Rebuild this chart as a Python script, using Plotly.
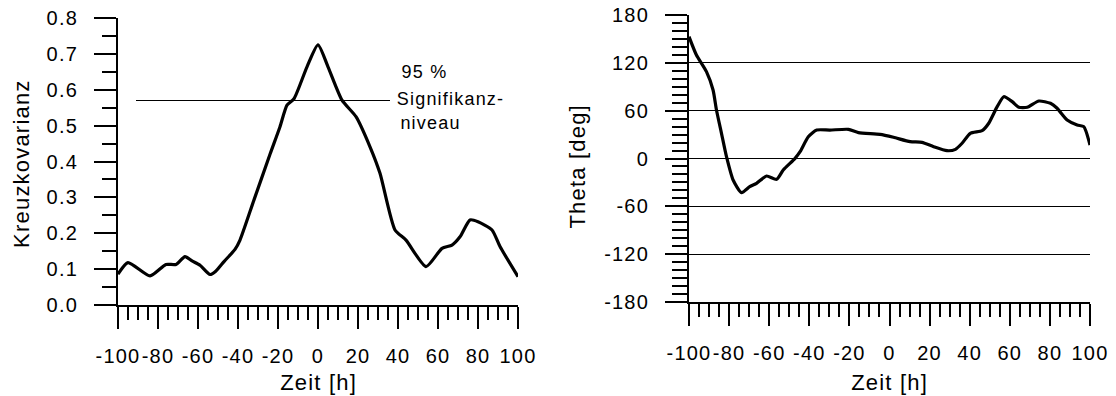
import plotly.graph_objects as go

W, H = 1116, 396

# ---------------- data ----------------
# Left panel: cross-covariance vs. lag time
lag_left = [-100, -95, -84, -76, -71, -66.5, -63, -59, -54, -51, -47, -41.5, -39, -32,
            -24, -19, -15.5, -12, -5.5, 0, 5, 12, 19, 26, 31, 38.5, 44, 54, 62, 67,
            71, 76, 80, 87, 91, 100]
kreuzkovarianz = [0.086, 0.118, 0.081, 0.113, 0.113, 0.135, 0.123, 0.111, 0.085, 0.095,
                  0.121, 0.155, 0.181, 0.293, 0.42, 0.497, 0.557, 0.575, 0.664, 0.725,
                  0.664, 0.571, 0.525, 0.441, 0.367, 0.209, 0.181, 0.107, 0.158, 0.167,
                  0.19, 0.237, 0.232, 0.209, 0.163, 0.079]

# 95 % significance level line
sig_level = 0.57
sig_x = [-91, 36]
sig_text = ["95 %", "Signifikanz-", "niveau"]

# Right panel: phase angle theta vs. lag time
lag_right = [-100, -96.3, -91.3, -88, -86.3, -83.8, -81.3, -78, -73.8, -69.7, -66.3,
             -61.3, -56.3, -53, -47.1, -44.6, -40.5, -36.3, -29.7, -20.5, -15.5, -4.7,
             2, 10.3, 16.2, 22, 28.7, 32.9, 36.2, 40.3, 46.2, 49.5, 53.7, 57, 61.2,
             64.5, 68.7, 74.5, 80.3, 83.6, 88.6, 93.6, 96.9, 100]
theta = [152.8, 129.8, 108.9, 85.9, 60.8, 31.6, 2.3, -27, -42.9, -35.4, -31.1,
         -22, -26.1, -14.4, 0.2, 8.5, 27.3, 35.7, 35.7, 36.6, 32.4, 30.3,
         26.6, 21.1, 20.3, 14.8, 9.8, 11.5, 19.1, 31.6, 34.9, 44.2, 65, 77.5, 71.3,
         64.2, 64.2, 72.1, 69.2, 63, 48.3, 42, 39.9, 16.9]

# ticks
x_ticks = [-100, -80, -60, -40, -20, 0, 20, 40, 60, 80, 100]
x_ticklabels = ["-100", "-80", "-60", "-40", "-20", "0", "20", "40", "60", "80", "100"]
y_left_ticks = [0.0, 0.1, 0.2, 0.3, 0.4, 0.5, 0.6, 0.7, 0.8]
y_left_ticklabels = ["0.0", "0.1", "0.2", "0.3", "0.4", "0.5", "0.6", "0.7", "0.8"]
y_right_ticks = [-180, -120, -60, 0, 60, 120, 180]
y_right_ticklabels = ["-180", "-120", "-60", "0", "60", "120", "180"]

FONT = "Liberation Sans, Arial, sans-serif"
TICKFONT = dict(family=FONT, size=20, color="black")
TITLEFONT = dict(family=FONT, size=22, color="black")

fig = go.Figure()

fig.add_trace(go.Scatter(x=lag_left, y=kreuzkovarianz, mode="lines",
                         line=dict(color="black", width=3.2, shape="spline", smoothing=0.6),
                         xaxis="x", yaxis="y", showlegend=False))
fig.add_trace(go.Scatter(x=sig_x, y=[sig_level, sig_level], mode="lines",
                         line=dict(color="black", width=1),
                         xaxis="x", yaxis="y", showlegend=False))
fig.add_trace(go.Scatter(x=lag_right, y=theta, mode="lines",
                         line=dict(color="black", width=3.2, shape="spline", smoothing=0.6),
                         xaxis="x2", yaxis="y2", showlegend=False))

common_x = dict(range=[-100, 100], tickmode="array", tickvals=x_ticks, ticktext=x_ticklabels,
                ticks="outside", ticklen=22, tickwidth=2, tickcolor="black",
                showline=True, linecolor="black", linewidth=2, showgrid=False,
                zeroline=False, tickfont=TICKFONT, ticklabelstandoff=10, automargin=False,
                minor=dict(dtick=5, tick0=-100, ticks="outside", ticklen=13,
                           tickwidth=1.5, tickcolor="black", showgrid=False))

fig.update_layout(
    template="none",
    width=W, height=H,
    margin=dict(l=0, r=0, t=0, b=0, autoexpand=False),
    paper_bgcolor="white", plot_bgcolor="white",
    xaxis=dict(domain=[118 / W, 518 / W], anchor="y", **common_x),
    yaxis=dict(domain=[1 - 305 / H, 1 - 18 / H], anchor="x", range=[0, 0.8],
               tickmode="array", tickvals=y_left_ticks, ticktext=y_left_ticklabels,
               ticks="outside", ticklen=22, tickwidth=2, tickcolor="black",
               showline=True, linecolor="black", linewidth=2, showgrid=False,
               zeroline=False, tickfont=TICKFONT, ticklabelstandoff=12, automargin=False,
               minor=dict(dtick=0.05, tick0=0, ticks="outside", ticklen=14,
                          tickwidth=1.5, tickcolor="black", showgrid=False)),
    xaxis2=dict(domain=[689 / W, 1090 / W], anchor="y2", **common_x),
    yaxis2=dict(domain=[1 - 302 / H, 1 - 15 / H], anchor="x2", range=[-180, 180],
                tickmode="array", tickvals=y_right_ticks, ticktext=y_right_ticklabels,
                ticks="outside", ticklen=22, tickwidth=2, tickcolor="black",
                showline=True, linecolor="black", linewidth=2,
                showgrid=True, gridcolor="black", gridwidth=1,
                zeroline=False, tickfont=TICKFONT, ticklabelstandoff=12, automargin=False,
                minor=dict(dtick=10, tick0=0, ticks="outside", ticklen=15,
                           tickwidth=1.5, tickcolor="black", showgrid=False)),
)

annotations = [
    dict(text="Kreuzkovarianz", x=21 / W, y=1 - 163.5 / H, textangle=-90,
         xanchor="center", yanchor="middle", font=TITLEFONT),
    dict(text="Zeit [h]", x=318 / W, y=1 - 382 / H, xanchor="center", yanchor="middle",
         font=TITLEFONT),
    dict(text="Theta [deg]", x=577 / W, y=1 - 167 / H, textangle=-90,
         xanchor="center", yanchor="middle", font=TITLEFONT),
    dict(text="Zeit [h]", x=889.5 / W, y=1 - 382 / H, xanchor="center", yanchor="middle",
         font=TITLEFONT),
]
for t, ypx in zip(sig_text, [72, 99, 123]):
    annotations.append(dict(text=t, x=402 / W, y=1 - ypx / H, xanchor="left",
                            yanchor="middle", font=dict(family=FONT, size=18, color="black")))
for a in annotations:
    a.update(xref="paper", yref="paper", showarrow=False)
fig.update_layout(annotations=annotations)

post = ("var s=document.createElement('style');"
        "s.innerHTML='.main-svg text{letter-spacing:1.2px;}';"
        "document.head.appendChild(s);")
fig.write_html("out.html", post_script=post)
